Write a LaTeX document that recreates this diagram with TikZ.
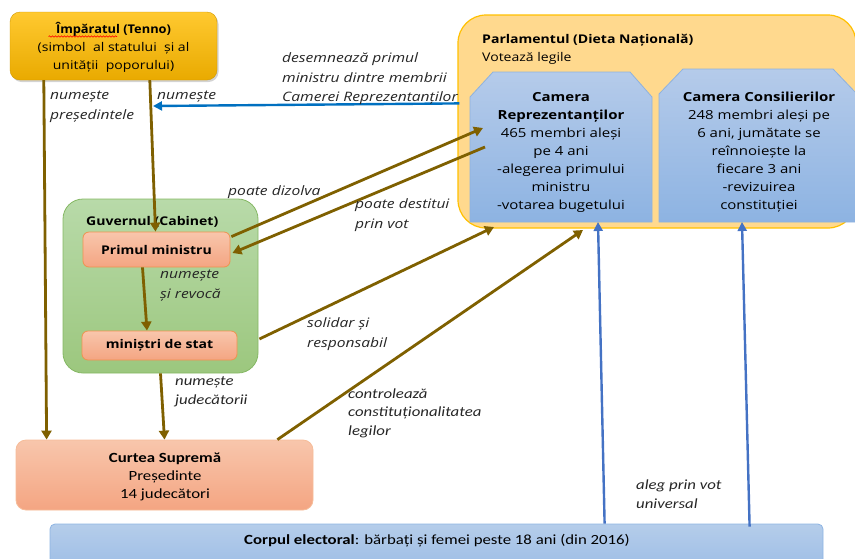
\documentclass[tikz,border=0pt]{standalone}
\usepackage{fontspec}
\setmainfont{Open Sans}[FakeStretch=1.17]
\newfontfamily\titlefont{Open Sans}[FakeStretch=1.07]
\newfontfamily\camfont{Open Sans}[FakeStretch=1.2]
\newfontfamily\calfont{Carlito}[FakeStretch=1.2]
\newfontfamily\labfont{Open Sans}[FakeStretch=1.2]
\usetikzlibrary{arrows.meta,shadows,decorations.pathmorphing,calc}
\definecolor{brn}{HTML}{7F6000}
\definecolor{bluearr}{HTML}{0070C0}
\definecolor{votebl}{HTML}{4472C4}
\definecolor{goldT}{HTML}{FFC930}
\definecolor{goldB}{HTML}{E9AA00}
\definecolor{parlF}{HTML}{FFD98E}
\definecolor{parlD}{HTML}{FFC000}
\definecolor{camT}{HTML}{B5CBEA}
\definecolor{camB}{HTML}{8DB3E2}
\definecolor{camD}{HTML}{8FB2DE}
\definecolor{grT}{HTML}{B8DAA9}
\definecolor{grB}{HTML}{9CC77E}
\definecolor{grD}{HTML}{85B864}
\definecolor{salT}{HTML}{F8C6AC}
\definecolor{salB}{HTML}{F4A582}
\definecolor{salD}{HTML}{F0924F}
\definecolor{corT}{HTML}{B5CDEA}
\definecolor{corB}{HTML}{9DBDE6}
\definecolor{corD}{HTML}{8EB4E3}
\tikzset{
  boxtext/.style={font=\fontsize{12}{18}\selectfont, align=center, text=black},
  impbox/.style={rounded corners=10pt, top color=goldT, bottom color=goldB, draw=goldB!90!black, line width=0.4pt,
     drop shadow={shadow xshift=1.5pt, shadow yshift=-2pt, opacity=0.35}, minimum width=207pt, minimum height=68pt, boxtext},
  parlbox/.style={rounded corners=28pt, fill=parlF, draw=parlD, line width=1.2pt, minimum width=398pt, minimum height=213pt},
  camframe/.style={draw=none, inner sep=0pt, outer sep=0pt},
  camshape/.style={top color=camT, bottom color=camB, draw=camD, line width=0.8pt},
  camtext/.style={font=\camfont\fontsize{12.5}{18}\selectfont, align=center, inner sep=0pt, text=black},
  govbox/.style={rounded corners=20pt, top color=grT, bottom color=grB, draw=grD, line width=0.8pt, minimum width=195pt, minimum height=174pt},
  salbox/.style={rounded corners=6pt, top color=salT, bottom color=salB, draw=salD, line width=0.8pt, boxtext, font=\fontsize{12}{18}\selectfont\bfseries},
  curbox/.style={rounded corners=10pt, top color=salT, bottom color=salB, draw=salT!80!salD, line width=0.8pt, minimum width=297pt, minimum height=70pt},
  corpbox/.style={rounded corners=5pt, top color=corT, bottom color=corB, draw=corD, line width=0.8pt, minimum width=773pt, minimum height=46pt},
  lab/.style={font=\labfont\itshape\fontsize{13}{19.3}\selectfont, align=left, anchor=base west, inner sep=0pt, text=black!85},
  clab/.style={font=\calfont\itshape\fontsize{14}{18.5}\selectfont, align=left, anchor=base west, inner sep=0pt, text=black!85},
  brarr/.style={draw=brn, line width=2.8pt, -{Triangle[length=9pt,width=10pt]}},
  blarr/.style={draw=bluearr, line width=2.4pt, -{Triangle[length=9pt,width=9pt]}},
  votarr/.style={draw=votebl, line width=2.4pt, -{Triangle[length=9pt,width=9pt]}},
}
\begin{document}
\begin{tikzpicture}[x=1pt,y=-1pt]
\useasboundingbox (0,0) rectangle (855,558);

% Parliament
\node[parlbox] (parl) at (657,121.5) {};
\node[anchor=west, inner sep=0pt, font=\fontsize{12}{18}\selectfont\bfseries] (parltitle) at (482,40) {Parlamentul (Dieta Națională)};
\node[anchor=west, inner sep=0pt, font=\fontsize{12}{18}\selectfont] (parlsub) at (482,58) {Votează legile};

\node[camframe, minimum width=182pt, minimum height=150pt] (camrep) at (561,147) {};
\draw[camshape] (camrep.south west) -- ($(camrep.north west)+(0,25)$) -- ($(camrep.north west)+(23,0)$)
  -- ($(camrep.north east)+(-22,0)$) -- ($(camrep.north east)+(0,25)$) -- (camrep.south east) -- cycle;
\node[camtext] (camreptxt) at (561,152.5)
  {\textbf{Camera}\\\textbf{Reprezentanților}\\465 membri aleși\\pe 4 ani\\-alegerea primului\\ministru\\-votarea bugetului};

\node[camframe, minimum width=198pt, minimum height=153pt] (camcons) at (758,145.5) {};
\draw[camshape] (camcons.south west) -- ($(camcons.north west)+(0,25)$) -- ($(camcons.north west)+(24,0)$)
  -- ($(camcons.north east)+(-24,0)$) -- ($(camcons.north east)+(0,25)$) -- (camcons.south east) -- cycle;
\node[camtext] (camconstxt) at (759,152)
  {\textbf{Camera Consilierilor}\\248 membri aleși pe\\6 ani, jumătate se\\reînnoiește la\\fiecare 3 ani\\-revizuirea\\constituției};

% Emperor
\node[impbox] (imp) at (113.5,46) {};
\node[boxtext, inner sep=0pt] (imptxt) at (113.5,47.5) {{\titlefont\bfseries Împăratul (Tenno)}\\(simbol\ \ al statului\ \ și al\\unității\ \ poporului)};
\draw[red, line width=0.6pt, decorate, decoration={snake, amplitude=0.7pt, segment length=3pt}] (48.5,36.5) -- (117,36.5);

% Government
\node[govbox] (gov) at (160.5,286) {};
\node[anchor=west, inner sep=0pt, font=\fontsize{12}{18}\selectfont\bfseries] (govlbl) at (86,222) {Guvernul (Cabinet)};
\node[salbox, minimum width=147pt, minimum height=35pt] (pm) at (156.5,249.5) {Primul ministru};
\node[salbox, minimum width=155pt, minimum height=29pt] (min) at (159.5,345.5) {miniștri de stat};

% Supreme court
\node[curbox] (cur) at (164.5,475) {};
\node[font=\calfont\fontsize{14}{18}\selectfont, align=center, inner sep=0pt] (curtxt) at (165,477) {\textbf{Curtea Supremă}\\Președinte\\14 judecători};

% Electorate
\node[corpbox] (corp) at (436.5,547) {};
\node[font=\calfont\fontsize{14}{18}\selectfont] (corptxt) at (437,541) {\textbf{Corpul electoral}: bărbați și femei peste 18 ani (din 2016)};

% Endpoint coordinates
\coordinate (blend) at (153,106);
\coordinate (solend) at (494,227);
\coordinate (conend) at (583,230);

% Connectors
\draw[brarr] ($(imp.south west)+(34,0)$) -- ($(cur.north west)+(31,0)$);
\draw[brarr] ($(imp.south west)+(140,0)$) -- ($(pm.north)+(-1,0)$);
\draw[blarr] ($(parl.north west)+(2,89)$) -- (blend);
\draw[brarr] ($(pm.north east)+(1,5)$) -- ($(camrep.west)+(13,-19)$);
\draw[brarr] ($(camrep.west)+(15,0)$) -- ($(pm.east)+(2,3.5)$);
\draw[brarr] ($(pm.south)+(-14,0)$) -- ($(min.north)+(-12.5,0)$);
\draw[brarr] ($(min.east)+(22,-6.5)$) -- (solend);
\draw[brarr] (gov.south) -- (cur.north);
\draw[brarr] ($(cur.north east)+(-36,0)$) -- (conend);
\draw[votarr] ($(corp.north west)+(555,0)$) -- ($(camrep.south)+(37,0)$);
\draw[votarr] ($(corp.north west)+(700,3)$) -- ($(camcons.south)+(-16,0)$);

% Labels (anchor at the baseline of the last line)
\node[lab] (l1) at (50,119) {numește\\președintele};
\node[lab] (l2) at (157,99) {numește};
\node[lab] (l3) at (282,101.5) {desemnează primul\\ministru dintre membrii\\Camerei Reprezentanților};
\node[lab] (l4) at (228,195) {poate dizolva};
\node[lab] (l5) at (355,228) {poate destitui\\prin vot};
\node[lab] (l6) at (160,298) {numește\\și revocă};
\node[lab] (l7) at (307,347) {solidar și\\responsabil};
\node[clab] (l8) at (175,404) {numește\\judecătorii};
\node[clab] (l9) at (348,435) {controlează\\constituționalitatea\\legilor};
\node[clab] (l10) at (636,508) {aleg prin vot\\universal};
\end{tikzpicture}
\end{document}
